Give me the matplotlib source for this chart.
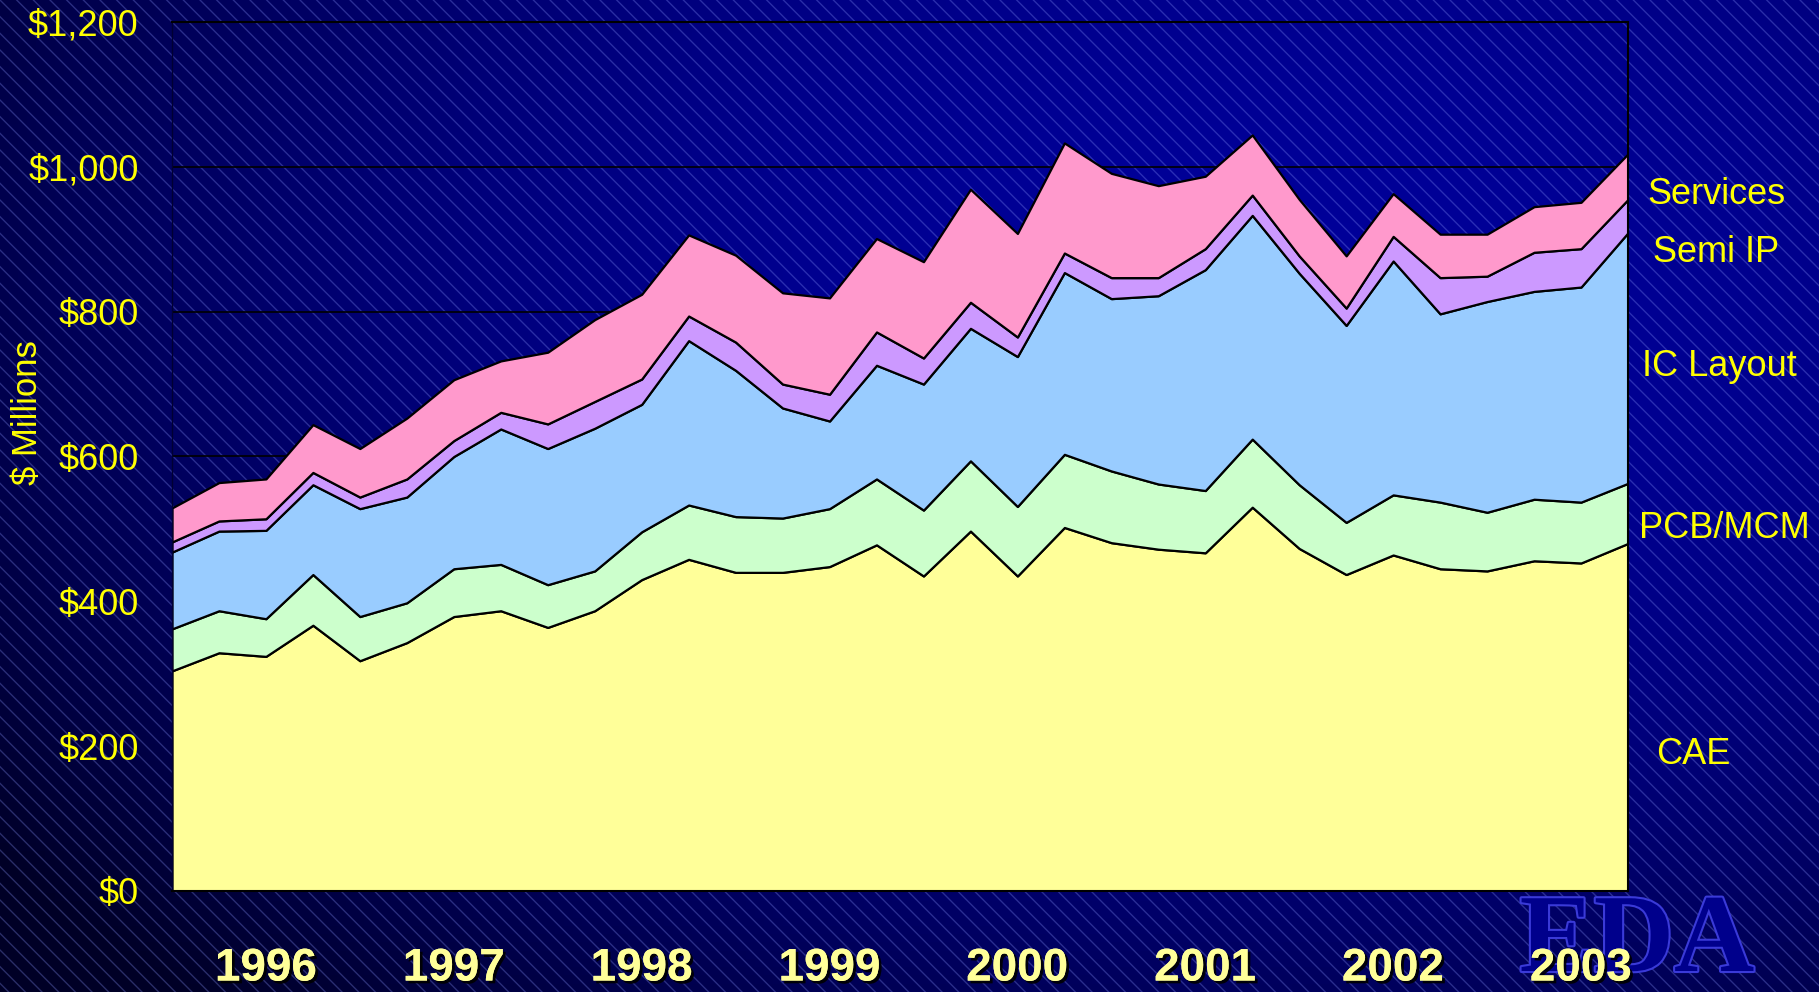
import matplotlib.pyplot as plt
import matplotlib.patheffects as pe
from matplotlib.patches import Rectangle
import numpy as np

# quarterly revenue, 1996 Q1 .. 2003 Q4 ($ millions)
quarters = np.arange(32)
cae = [304, 329, 324, 367, 318, 343, 379, 387, 364, 387, 430, 458, 440, 440, 448, 478,
       435, 497, 435, 502, 481, 472, 467, 530, 473, 437, 464, 445, 442, 456, 453, 480]
pcb_mcm = [58, 58, 52, 70, 61, 55, 66, 64, 59, 55, 66, 75, 77, 75, 80, 91,
           91, 97, 96, 101, 99, 90, 86, 94, 88, 72, 83, 92, 81, 85, 84, 83]
ic_layout = [106, 110, 122, 124, 149, 146, 155, 187, 188, 197, 176, 227, 202, 152, 121, 157,
             174, 183, 207, 251, 238, 260, 305, 309, 292, 272, 323, 260, 291, 287, 297, 346]
semi_ip = [14, 14, 16, 17, 16, 25, 22, 23, 34, 37, 35, 34, 39, 33, 37, 46,
           36, 36, 27, 27, 29, 25, 29, 28, 24, 24, 34, 50, 35, 54, 53, 46]
services = [47, 53, 55, 66, 67, 84, 84, 71, 99, 113, 117, 112, 120, 126, 133, 129,
            133, 156, 143, 152, 144, 127, 100, 83, 78, 72, 59, 60, 58, 63, 64, 63]

series_names = ["CAE", "PCB/MCM", "IC Layout", "Semi IP", "Services"]
colors = ["#FFFF99", "#CCFFCC", "#99CCFF", "#CC99FF", "#FF99CC"]
year_labels = ["1996", "1997", "1998", "1999", "2000", "2001", "2002", "2003"]
year_pos = [2, 6, 10, 14, 18, 22, 26, 30]
yticks = [0, 200, 400, 600, 800, 1000, 1200]

plt.rcParams['font.family'] = ['Liberation Sans', 'DejaVu Sans']

W, H = 1819, 992
fig = plt.figure(figsize=(W / 100, H / 100), dpi=100)

# background: navy gradient + diagonal hatching
bg = fig.add_axes([0, 0, 1, 1], zorder=0)
gx, gy = np.meshgrid(np.linspace(0, 1, 200), np.linspace(0, 1, 120))
d = np.sqrt(((gx - 0.7) / 0.9) ** 2 + ((gy - 0.3) / 1.0) ** 2)
b = np.clip(1.0 - 0.8 * d ** 2, 0.25, 1.0)
img = np.dstack([0.0 * b, 0.0 * b, 0.6 * b])
bg.imshow(img, extent=[0, 1, 0, 1], aspect='auto', origin='upper')
bg.add_patch(Rectangle((0, 0), 1, 1, facecolor='none', edgecolor=(0.55, 0.6, 1.0, 0.3),
                       hatch='\\\\', linewidth=0))
bg.set_xlim(0, 1)
bg.set_ylim(0, 1)
bg.axis('off')

ax = fig.add_axes([172 / W, 1 - 891 / H, (1628 - 172) / W, (891 - 22) / H], zorder=1)
ax.patch.set_alpha(0)

ax.stackplot(quarters, cae, pcb_mcm, ic_layout, semi_ip, services,
             colors=colors, edgecolor='black', linewidth=1.6, zorder=2)

ax.set_xlim(0, 31)
ax.set_ylim(0, 1200)
ax.set_yticks(yticks)
ax.set_yticklabels(["${:,}".format(v) for v in yticks])
ax.yaxis.grid(True, color='black', linewidth=1.2)
ax.set_axisbelow(True)
ax.tick_params(axis='y', length=0, pad=24, labelsize=26, labelcolor='#FFFF00')
ax.set_xticks(year_pos)
ax.set_xticklabels(year_labels)
ax.tick_params(axis='x', length=0, pad=40, labelsize=33, labelcolor='#FFFF99')
for t in ax.get_xticklabels():
    t.set_fontweight('bold')
    t.set_path_effects([pe.withSimplePatchShadow(offset=(2, -2), shadow_rgbFace='black', alpha=0.9),
                        pe.Normal()])
for s in ax.spines.values():
    s.set_color('black')
    s.set_linewidth(1.5)
ax.spines['left'].set_color('#000033')
ax.spines['left'].set_linewidth(1)

ax.set_ylabel("$ Millions", color='#FFFF00', fontsize=25)
ax.yaxis.set_label_coords(-0.088, 0.55)

# series labels on the right
label_xy = {"Services": (1716, 195), "Semi IP": (1716, 252), "IC Layout": (1719, 367),
            "PCB/MCM": (1724, 528), "CAE": (1693, 754)}
for name in series_names:
    x, y = label_xy[name]
    fig.text(x / W, 1 - y / H, name, color='#FFFF00', fontsize=26, ha='center', va='center', zorder=3)

# EDA logo
fig.text(1637 / W, 1 - 944 / H, "EDA", family=['Liberation Serif', 'DejaVu Serif'], fontweight='bold',
         fontsize=80, color='#00008C', ha='center', va='center', zorder=0.5,
         path_effects=[pe.withStroke(linewidth=3, foreground='#3a3ad8')])

fig.savefig("out.png", dpi=100)
